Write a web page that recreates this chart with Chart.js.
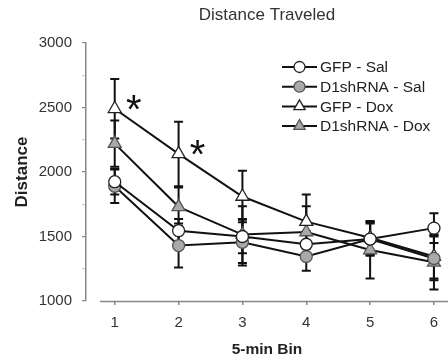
<!DOCTYPE html>
<html>
<head>
<meta charset="utf-8">
<script src="https://cdn.jsdelivr.net/npm/chart.js@4/dist/chart.umd.min.js"></script>
<style>
  html, body { margin: 0; padding: 0; background: #fff; }
  #wrap { width: 448px; height: 360px; position: relative; }
</style>
</head>
<body>
<div id="wrap"><canvas id="c" width="448" height="360"></canvas></div>
<script>
// ---- data ----
const bins = [1, 2, 3, 4, 5, 6];
const seriesNames = ['GFP - Sal', 'D1shRNA - Sal', 'GFP - Dox', 'D1shRNA - Dox'];
const gfpSal       = [1925, 1545, 1500, 1440, 1480, 1565];
const gfpSalErr    = [100, 90, 130, 100, 130, 115];
const d1Sal        = [1890, 1430, 1455, 1345, 1480, 1330];
const d1SalErr     = [130, 170, 180, 110, 120, 170];
const gfpDox       = [2490, 2140, 1810, 1615, 1490, 1345];
const gfpDoxErr    = [230, 250, 200, 210, 130, 170];
const d1Dox        = [2220, 1730, 1515, 1535, 1395, 1300];
const d1DoxErr     = [180, 150, 220, 200, 220, 210];
const yTickValues  = [1000, 1500, 2000, 2500, 3000];
const asteriskBins = [1, 2];   // significance marks on GFP - Dox
const chartTitle = 'Distance Traveled';
const xTitle = '5-min Bin';
const yTitle = 'Distance';

const FONT = "'Liberation Sans', Arial, sans-serif";
const GRAY = '#a9a9a9';

function pts(vals) { return bins.map((b, i) => ({ x: b, y: vals[i] })); }

const datasets = [
  { label: seriesNames[0], data: pts(gfpSal), err: gfpSalErr, pointStyle: 'circle', pointRadius: 6, pointBackgroundColor: '#fff', pointBorderColor: '#222' },
  { label: seriesNames[1], data: pts(d1Sal), err: d1SalErr, pointStyle: 'circle', pointRadius: 6, pointBackgroundColor: GRAY, pointBorderColor: '#555' },
  { label: seriesNames[2], data: pts(gfpDox), err: gfpDoxErr, pointStyle: 'triangle', pointRadius: 7.5, pointBackgroundColor: '#fff', pointBorderColor: '#222' },
  { label: seriesNames[3], data: pts(d1Dox), err: d1DoxErr, pointStyle: 'triangle', pointRadius: 7.5, pointBackgroundColor: GRAY, pointBorderColor: '#555' }
].map(d => Object.assign({ borderColor: '#111', borderWidth: 2, pointBorderWidth: 1.3, tension: 0, fill: false, clip: false }, d));

const errorBars = {
  id: 'errorBars',
  beforeDatasetsDraw(chart) {
    const ctx = chart.ctx, ys = chart.scales.y;
    ctx.save();
    ctx.strokeStyle = '#111';
    ctx.lineWidth = 2;
    chart.data.datasets.forEach((ds, di) => {
      const meta = chart.getDatasetMeta(di);
      meta.data.forEach((el, i) => {
        const v = ds.data[i].y, e = ds.err[i];
        const top = ys.getPixelForValue(v + e), bot = ys.getPixelForValue(v - e);
        ctx.beginPath();
        ctx.moveTo(el.x, top); ctx.lineTo(el.x, bot);
        ctx.moveTo(el.x - 4.5, top); ctx.lineTo(el.x + 4.5, top);
        ctx.moveTo(el.x - 4.5, bot); ctx.lineTo(el.x + 4.5, bot);
        ctx.stroke();
      });
    });
    ctx.restore();
  }
};

const decorations = {
  id: 'decorations',
  beforeDraw(chart) {
    const ctx = chart.ctx, xs = chart.scales.x, ca = chart.chartArea;
    ctx.save();
    // detached x-axis line
    ctx.strokeStyle = '#888';
    ctx.lineWidth = 1.5;
    ctx.beginPath();
    ctx.moveTo(xs.getPixelForValue(0.77), ca.bottom + 0.5);
    ctx.lineTo(ca.right, ca.bottom + 0.5);
    ctx.stroke();
    // title
    ctx.fillStyle = '#333';
    ctx.font = '17px ' + FONT;
    ctx.textAlign = 'center';
    ctx.textBaseline = 'middle';
    ctx.fillText(chartTitle, (ca.left + ca.right) / 2, 15);
    ctx.restore();
  },
  afterDatasetsDraw(chart) {
    const ctx = chart.ctx, ca = chart.chartArea;
    ctx.save();
    // asterisks
    const meta = chart.getDatasetMeta(2);
    ctx.fillStyle = '#111';
    ctx.font = '40px ' + FONT;
    ctx.textAlign = 'center';
    ctx.textBaseline = 'middle';
    asteriskBins.forEach(b => {
      const el = meta.data[bins.indexOf(b)];
      ctx.fillText('*', el.x + 19, el.y + 3);
    });
    // legend
    const lx = ca.right - 166, ly0 = ca.top + 24, step = 19.7;
    chart.data.datasets.forEach((ds, i) => {
      const y = ly0 + i * step;
      ctx.strokeStyle = '#111';
      ctx.lineWidth = 2;
      ctx.beginPath();
      ctx.moveTo(lx, y); ctx.lineTo(lx + 35, y);
      ctx.stroke();
      ctx.fillStyle = ds.pointBackgroundColor;
      ctx.strokeStyle = ds.pointBorderColor;
      ctx.lineWidth = 1.3;
      ctx.beginPath();
      if (ds.pointStyle === 'circle') {
        ctx.arc(lx + 17.5, y, 5.5, 0, Math.PI * 2);
      } else {
        const r = 6.5, cx = lx + 17.5;
        ctx.moveTo(cx, y - r);
        ctx.lineTo(cx + r * 0.866, y + r * 0.5);
        ctx.lineTo(cx - r * 0.866, y + r * 0.5);
        ctx.closePath();
      }
      ctx.fill(); ctx.stroke();
      ctx.fillStyle = '#222';
      ctx.font = '15.5px ' + FONT;
      ctx.textAlign = 'left';
      ctx.textBaseline = 'middle';
      ctx.fillText(ds.label, lx + 38, y + 1);
    });
    ctx.restore();
  }
};

new Chart(document.getElementById('c'), {
  type: 'line',
  data: { datasets },
  options: {
    responsive: false,
    animation: false,
    layout: { autoPadding: false, padding: { top: 43, right: 0, left: 0, bottom: 0 } },
    plugins: { legend: { display: false }, title: { display: false }, tooltip: { enabled: false } },
    scales: {
      x: {
        type: 'linear',
        min: 0.55, max: 6.22,
        afterBuildTicks: s => { s.ticks = bins.map(v => ({ value: v })); },
        afterFit: s => { s.height = 59; s.paddingLeft = 0; s.paddingRight = 0; },
        ticks: { color: '#333', font: { family: FONT, size: 15 }, padding: 9, maxRotation: 0 },
        grid: { drawOnChartArea: false, tickLength: 4, color: '#888', lineWidth: 1.5 },
        border: { display: false },
        title: { display: true, text: xTitle, color: '#222', font: { family: FONT, size: 15.5, weight: 'bold' }, padding: { top: 4, bottom: 1 } }
      },
      y: {
        min: 1000, max: 3000,
        afterBuildTicks: s => {
          const t = [];
          for (let v = 1000; v <= 3000; v += 250) t.push({ value: v });
          s.ticks = t;
        },
        afterFit: s => { s.width = 86; s.paddingTop = 0; s.paddingBottom = 0; },
        ticks: {
          color: '#333', font: { family: FONT, size: 15 }, padding: 10,
          callback: v => yTickValues.includes(v) ? String(v) : ''
        },
        grid: {
          drawOnChartArea: false, tickLength: 4, lineWidth: 1.2,
          color: c => (c.tick && yTickValues.includes(c.tick.value)) ? '#888' : '#ccc'
        },
        border: { display: true, color: '#888', width: 1.5 },
        title: { display: true, text: yTitle, color: '#222', font: { family: FONT, size: 17, weight: 'bold' }, padding: { top: 12, bottom: 0 } }
      }
    }
  },
  plugins: [errorBars, decorations]
});
</script>
</body>
</html>
